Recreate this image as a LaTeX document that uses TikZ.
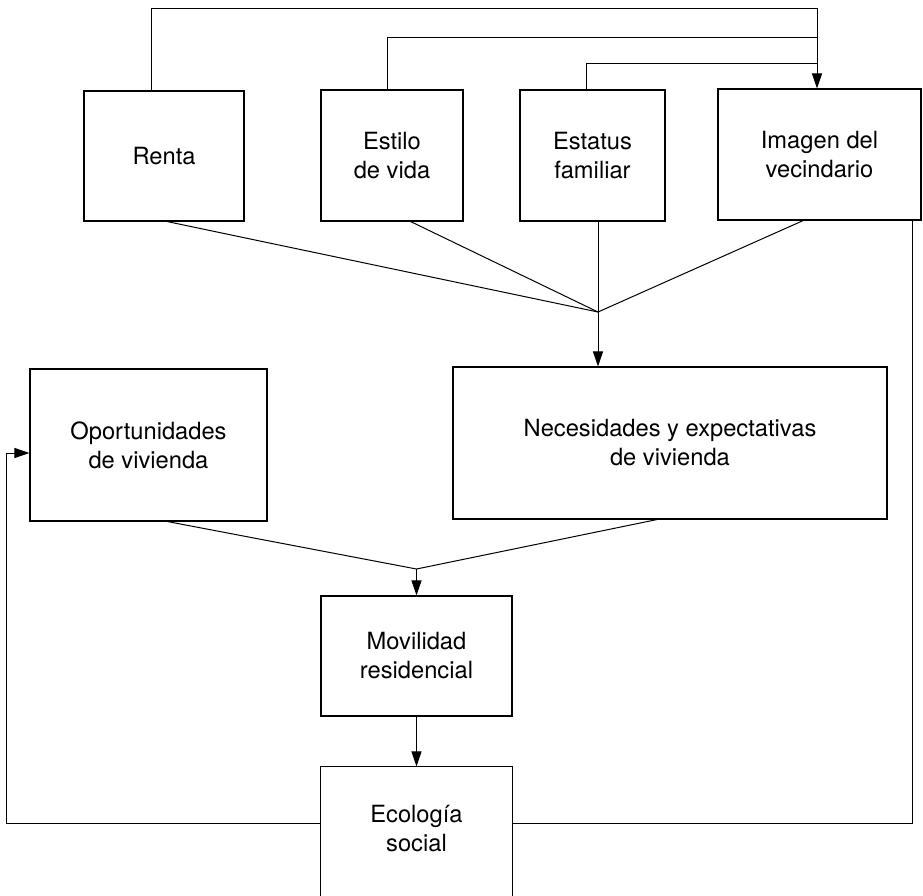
\documentclass[tikz,border=0pt]{standalone}
\usepackage{fontspec}
\setmainfont{TeX Gyre Heros}
\usetikzlibrary{arrows.meta,calc}
\begin{document}
\begin{tikzpicture}[x=1pt,y=-1pt,
  box/.style={draw, line width=1.1pt, inner sep=0pt, align=center, font=\fontsize{23.7}{29}\selectfont},
  conn/.style={line width=1pt},
  arr/.style={conn, -{Triangle[length=15pt,width=10pt]}}]
\useasboundingbox (0,0) rectangle (923,895);
\node[box, minimum width=160pt, minimum height=130pt] (renta) at (164,156) {Renta};
\node[box, minimum width=142pt, minimum height=131pt] (estilo) at (392,155.5) {Estilo\\de vida};
\node[box, minimum width=145pt, minimum height=131pt] (estatus) at (592.5,155.5) {Estatus\\familiar};
\node[box, minimum width=203pt, minimum height=131pt] (imagen) at (819.5,154.5) {Imagen del\\vecindario};
\node[box, minimum width=237pt, minimum height=152pt] (oport) at (148.5,445) {Oportunidades\\de vivienda};
\node[box, minimum width=434pt, minimum height=152pt] (nec) at (670,443) {Necesidades y expectativas\\de vivienda};
\node[box, minimum width=191pt, minimum height=120pt] (mov) at (416.5,656) {Movilidad\\residencial};
\node[box, draw=none, minimum width=191pt, minimum height=124pt] (eco) at (416.5,829) {Ecología\\social};
\coordinate (ecobot) at (0,900);
\draw[line width=1.1pt] (eco.north west |- ecobot) -- (eco.north west) -- (eco.north east) -- (eco.north east |- ecobot);
% top feedback
\coordinate (ax) at (817,0);
\coordinate (r1) at (151,8);
\coordinate (e1) at (387,37);
\coordinate (s1) at (586,63);
\draw[arr] (renta.north -| r1) -- (r1) -- (r1 -| ax) -- (imagen.north -| ax);
\draw[conn] (estilo.north -| e1) -- (e1) -- (e1 -| ax);
\draw[conn] (estatus.north -| s1) -- (s1) -- (s1 -| ax);
% convergence 1
\coordinate (j1) at (598,312);
\draw[conn] ($(renta.south west)!0.52!(renta.south east)$) -- (j1);
\draw[conn] ($(estilo.south west)!0.63!(estilo.south east)$) -- (j1);
\draw[conn] (estatus.south -| j1) -- (j1);
\draw[conn] ($(imagen.south west)!0.42!(imagen.south east)$) -- (j1);
\draw[arr] (j1) -- (nec.north -| j1);
% convergence 2
\coordinate (j2) at (416.5,569);
\draw[conn] ($(oport.south west)!0.58!(oport.south east)$) -- (j2);
\draw[conn] ($(nec.south west)!0.47!(nec.south east)$) -- (j2);
\draw[arr] (j2) -- (mov.north);
\draw[arr] (mov.south) -- (eco.north);
% feedback from ecologia
\coordinate (fl) at (6,823);
\coordinate (fa) at (6,453);
\draw[arr] (eco.north west |- fl) -- (fl) -- (fa) -- (oport.west |- fa);
\coordinate (fr) at (912,823);
\draw[conn] (eco.north east |- fr) -- (fr) -- (imagen.south -| fr);
\end{tikzpicture}
\end{document}
